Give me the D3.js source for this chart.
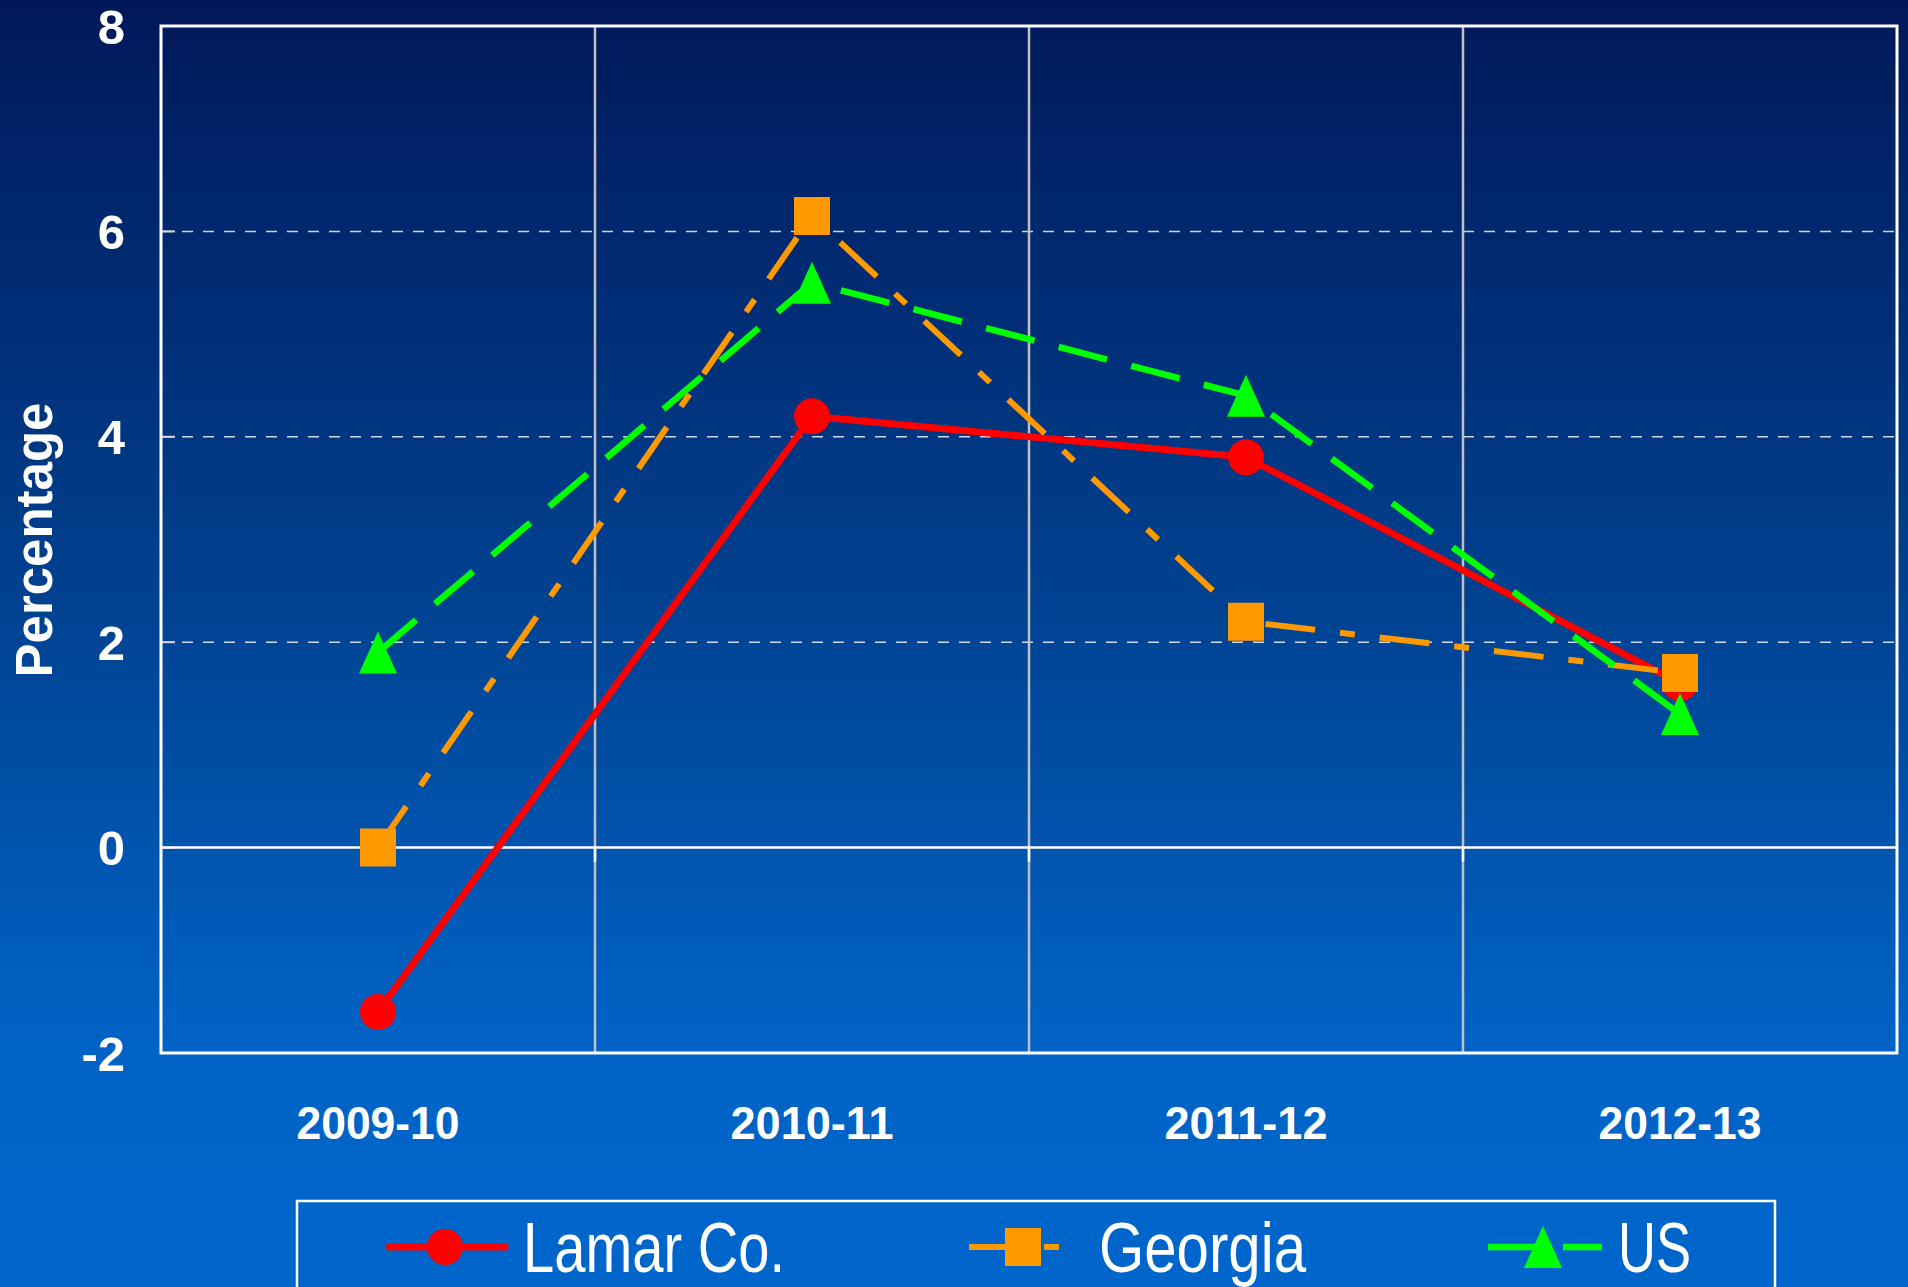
<!DOCTYPE html>
<html><head><meta charset="utf-8">
<script src="https://cdn.jsdelivr.net/npm/d3@7"></script>
<style>
html,body{margin:0;padding:0;background:#0064c8;}
svg{display:block;}
</style></head>
<body>
<svg id="chart" width="1908" height="1287"></svg>
<script>
const categories = ["2009-10", "2010-11", "2011-12", "2012-13"];
const lamarValues = [-1.6, 4.2, 3.8, 1.6];
const georgiaValues = [0.0, 6.15, 2.2, 1.7];
const usValues = [1.9, 5.5, 4.4, 1.3];
const seriesNames = ["Lamar Co.", "Georgia", "US"];
const yTicks = [-2, 0, 2, 4, 6, 8];
const yTitle = "Percentage";

const W = 1908, H = 1287;
const plot = {left: 161, right: 1897, top: 26, bottom: 1053};

const svg = d3.select("#chart");
const defs = svg.append("defs");
const grad = defs.append("linearGradient").attr("id","bg").attr("x1",0).attr("y1",0).attr("x2",0).attr("y2",1);
grad.append("stop").attr("offset","0%").attr("stop-color","#00185a");
grad.append("stop").attr("offset","45%").attr("stop-color","#00408e");
grad.append("stop").attr("offset","80%").attr("stop-color","#0062c4");
grad.append("stop").attr("offset","100%").attr("stop-color","#0066cc");
svg.append("rect").attr("width",W).attr("height",H).attr("fill","url(#bg)");

const x = d3.scalePoint().domain(categories).range([plot.left, plot.right]).padding(0.5);
const xb = d3.scaleBand().domain(categories).range([plot.left, plot.right]);
const y = d3.scaleLinear().domain([-2, 8]).range([plot.bottom, plot.top]);

// horizontal dashed gridlines
const g = svg.append("g");
g.selectAll("line.hg").data(yTicks.filter(v => v !== 0 && v !== -2 && v !== 8)).join("line")
  .attr("x1", plot.left).attr("x2", plot.right)
  .attr("y1", d => y(d)).attr("y2", d => y(d))
  .attr("stroke", "#ffffff").attr("stroke-opacity", 0.8).attr("stroke-width", 1.5)
  .attr("stroke-dasharray", "11,10");

// vertical gridlines at category boundaries
g.selectAll("line.vg").data(categories.slice(1)).join("line")
  .attr("x1", d => xb(d)).attr("x2", d => xb(d))
  .attr("y1", plot.top).attr("y2", plot.bottom)
  .attr("stroke", "#c0c0c0").attr("stroke-width", 2.5);

// y-axis inner ticks
g.selectAll("line.yt").data(yTicks).join("line")
  .attr("x1", plot.left).attr("x2", plot.left + 14)
  .attr("y1", d => y(d)).attr("y2", d => y(d))
  .attr("stroke", "#d8d8d8").attr("stroke-width", 2);

// zero line (x axis) with ticks
g.append("line").attr("x1", plot.left).attr("x2", plot.right)
  .attr("y1", y(0)).attr("y2", y(0)).attr("stroke", "#ffffff").attr("stroke-width", 2.5);
g.selectAll("line.xt").data(categories.slice(1)).join("line")
  .attr("x1", d => xb(d)).attr("x2", d => xb(d))
  .attr("y1", y(0)).attr("y2", y(0) + 14)
  .attr("stroke", "#ffffff").attr("stroke-width", 2.5);

// frame
g.append("rect").attr("x", plot.left).attr("y", plot.top)
  .attr("width", plot.right - plot.left).attr("height", plot.bottom - plot.top)
  .attr("fill", "none").attr("stroke", "#ffffff").attr("stroke-width", 3);

// y tick labels
svg.append("g").selectAll("text").data(yTicks).join("text")
  .attr("x", 125).attr("y", d => y(d)).attr("dy", "0.36em")
  .attr("text-anchor", "end")
  .attr("font-family", "'Liberation Sans', Arial, sans-serif").attr("font-weight", "bold")
  .attr("font-size", 49).attr("fill", "#ffffff")
  .text(d => d);

// x labels
svg.append("g").selectAll("text").data(categories).join("text")
  .attr("x", d => x(d)).attr("y", 1122).attr("dy", "0.36em")
  .attr("text-anchor", "middle")
  .attr("font-family", "'Liberation Sans', Arial, sans-serif").attr("font-weight", "bold")
  .attr("font-size", 46).attr("fill", "#ffffff")
  .attr("textLength", 163).attr("lengthAdjust", "spacingAndGlyphs")
  .text(d => d);

// y title
svg.append("text")
  .attr("transform", "translate(52,540) rotate(-90)")
  .attr("text-anchor", "middle")
  .attr("font-family", "'Liberation Sans', Arial, sans-serif").attr("font-weight", "bold")
  .attr("font-size", 51).attr("fill", "#ffffff")
  .text(yTitle);

const series = [
  {name: seriesNames[0], values: lamarValues, color: "#ff0000", dash: null, width: 7, marker: "circle"},
  {name: seriesNames[1], values: georgiaValues, color: "#ff9900", dash: "50,25,15,25", width: 6, marker: "square"},
  {name: seriesNames[2], values: usValues, color: "#00ff00", dash: "50,25", width: 6.5, marker: "triangle"}
];

const markerPath = m => {
  if (m === "circle") return d3.symbol(d3.symbolCircle, Math.PI * 18 * 18)();
  if (m === "square") return "M-18,-19H18V19H-18Z";
  return "M0,-21L19,21H-19Z";
};

const line = d3.line().x((d, i) => x(categories[i])).y(d => y(d));

series.forEach(s => {
  const sg = svg.append("g");
  sg.append("path").datum(s.values).attr("d", line)
    .attr("fill", "none").attr("stroke", s.color).attr("stroke-width", s.width)
    .attr("stroke-dasharray", s.dash).attr("stroke-linejoin", "round");
  sg.selectAll("path.m").data(s.values).join("path")
    .attr("transform", (d, i) => `translate(${x(categories[i])},${y(d)})`)
    .attr("d", markerPath(s.marker))
    .attr("fill", s.color);
});

// legend
const lg = svg.append("g");
lg.append("rect").attr("x", 297).attr("y", 1201).attr("width", 1478).attr("height", 120)
  .attr("fill", "none").attr("stroke", "#ffffff").attr("stroke-width", 2.5);

const legendItems = [
  {x1: 389, x2: 505, mx: 445, tx: 523, tw: 262},
  {x1: 969, x2: 1059, mx: 1023, tx: 1099, tw: 207},
  {x1: 1488, x2: 1602, mx: 1543, tx: 1618, tw: 73}
];
const ly = 1247;
series.forEach((s, i) => {
  const it = legendItems[i];
  lg.append("line").attr("x1", it.x1).attr("x2", it.x2).attr("y1", ly).attr("y2", ly)
    .attr("stroke", s.color).attr("stroke-width", s.width)
    .attr("stroke-linecap", s.dash ? "butt" : "round")
    .attr("stroke-dasharray", s.dash);
  lg.append("path").attr("transform", `translate(${it.mx},${ly})`)
    .attr("d", markerPath(s.marker)).attr("fill", s.color);
  lg.append("text").attr("x", it.tx).attr("y", 1272)
    .attr("font-family", "'Liberation Sans Narrow', 'Arial Narrow', 'Liberation Sans', sans-serif")
    .attr("font-size", 71).attr("fill", "#ffffff")
    .attr("textLength", it.tw).attr("lengthAdjust", "spacingAndGlyphs")
    .text(s.name);
});
</script>
</body></html>
